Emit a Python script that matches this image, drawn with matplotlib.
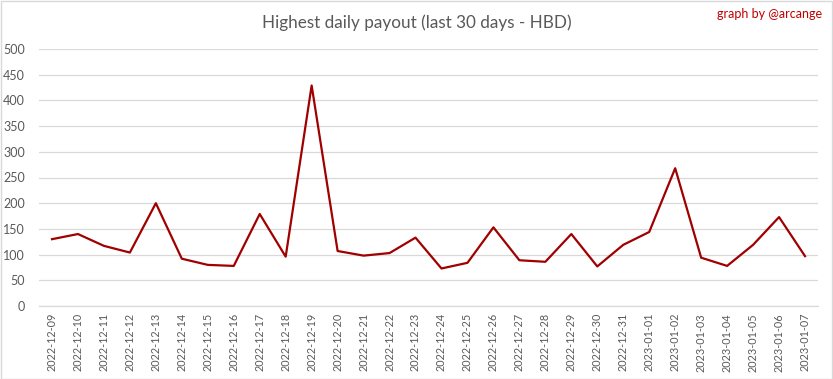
import matplotlib
matplotlib.use("Agg")
import matplotlib.pyplot as plt
from matplotlib.patches import Rectangle

dates = ["2022-12-09", "2022-12-10", "2022-12-11", "2022-12-12", "2022-12-13",
         "2022-12-14", "2022-12-15", "2022-12-16", "2022-12-17", "2022-12-18",
         "2022-12-19", "2022-12-20", "2022-12-21", "2022-12-22", "2022-12-23",
         "2022-12-24", "2022-12-25", "2022-12-26", "2022-12-27", "2022-12-28",
         "2022-12-29", "2022-12-30", "2022-12-31", "2023-01-01", "2023-01-02",
         "2023-01-03", "2023-01-04", "2023-01-05", "2023-01-06", "2023-01-07"]
payout = [130, 140, 117, 104, 200, 92, 80, 78, 179, 96,
          429, 107, 98, 103, 133, 73, 84, 153, 89, 86,
          140, 77, 119, 144, 268, 94, 78, 119, 173, 97]
yticks = [0, 50, 100, 150, 200, 250, 300, 350, 400, 450, 500]

plt.rcParams['font.family'] = ['Lato', 'DejaVu Sans']
W, H = 833, 379
fig = plt.figure(figsize=(W / 100, H / 100), dpi=100)
fig.patches.append(Rectangle((0.5 / W, 0.5 / H), 1 - 1.5 / W, 1 - 1.5 / H,
                             transform=fig.transFigure, fill=False,
                             edgecolor='#d9d9d9', linewidth=1))
ax = fig.add_axes([39 / W, 1 - 306 / H, (818 - 39) / W, (306 - 49) / H])
x = list(range(len(dates)))
ax.plot(x, payout, color='#a00000', linewidth=1.6, zorder=3)
ax.set_xlim(-0.5, len(dates) - 0.5)
ax.set_ylim(0, 500)
ax.set_yticks(yticks)
ax.set_xticks(x)
ax.set_xticklabels(dates, rotation=90, fontsize=7.8, color='#595959')
ax.tick_params(axis='y', labelsize=9, colors='#595959', length=0, pad=10)
ax.tick_params(axis='x', length=0, pad=5)
ax.grid(axis='y', color='#d9d9d9', linewidth=0.9)
ax.set_axisbelow(True)
for s in ['top', 'right', 'left']:
    ax.spines[s].set_visible(False)
ax.spines['bottom'].set_color('#d9d9d9')
ax.spines['bottom'].set_linewidth(0.9)
fig.text(0.5, 1 - 23 / H, "Highest daily payout (last 30 days - HBD)",
         ha='center', va='center', fontsize=12.3, color='#595959')
fig.text(822 / W, 1 - 14 / H, "graph by @arcange", ha='right', va='center',
         fontsize=9, color='#c00000')
fig.savefig("out.png", dpi=100)
